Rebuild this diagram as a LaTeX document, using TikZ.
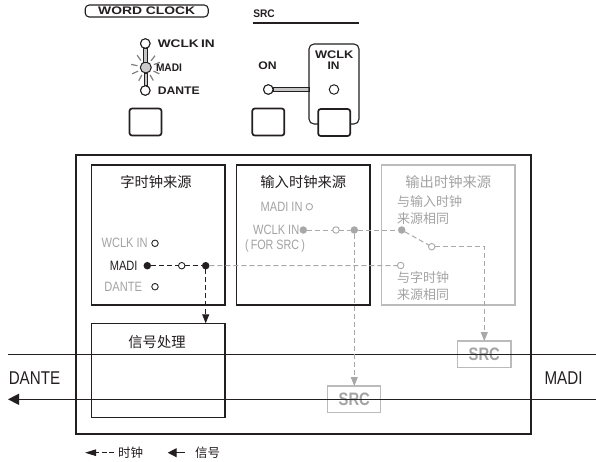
\documentclass[tikz,border=0pt]{standalone}
\usepackage{fontspec}
\setmainfont{Liberation Sans}
\newfontfamily\condfont[FakeStretch=0.82]{Liberation Sans}
\newfontfamily\cjkfont{Noto Sans CJK SC}
\usetikzlibrary{arrows.meta}
\newcommand\tp[2]{\resizebox{#1}{\height}{\bfseries #2}}
\definecolor{dk}{HTML}{231F20}
\definecolor{gtxt}{HTML}{A3A3A3}
\definecolor{gline}{HTML}{A8A8A8}
\definecolor{gbox}{HTML}{BBBBBB}
\begin{document}
\begin{tikzpicture}[x=1pt,y=-1pt,
  every node/.style={inner sep=0pt, outer sep=0pt},
  boxA/.style={draw=dk, line width=1.3pt},
  gboxA/.style={draw=gbox, line width=1.3pt},
  ledc/.style={circle, draw=dk, line width=1pt, fill=white, minimum size=9.5pt},
  btnbox/.style={draw=dk, line width=1.7pt, rounded corners=2.5pt, minimum width=32pt, minimum height=27pt},
  barbox/.style={draw=dk, line width=0.7pt, fill=gray!45},
  odot/.style={circle, draw=dk, line width=0.9pt, fill=white, minimum size=6.5pt},
  fdot/.style={circle, fill=dk, minimum size=7.5pt},
  godot/.style={circle, draw=gline, line width=0.9pt, fill=white, minimum size=6.5pt},
  gfdot/.style={circle, fill=gline, minimum size=7.5pt},
  clkline/.style={dk, line width=1pt, dash pattern=on 5pt off 3pt},
  gclkline/.style={gline, line width=1pt, dash pattern=on 5pt off 3pt},
  sigline/.style={dk, line width=1.3pt},
  toplab/.style={font=\fontsize{11}{12}\selectfont, text=dk},
  mlab/.style={font=\condfont\fontsize{13.5}{15}\selectfont, text=dk},
  glab/.style={font=\condfont\fontsize{13.5}{15}\selectfont, text=gtxt},
  biglab/.style={font=\condfont\fontsize{18.5}{20}\selectfont, text=dk},
  srclab/.style={font=\condfont\bfseries\fontsize{18}{20}\selectfont, text=gtxt},
  cjkt/.style={font=\cjkfont\fontsize{14.3}{16}\selectfont, text=dk},
  gcjk/.style={font=\cjkfont\fontsize{13}{15}\selectfont, text=gtxt},
  legt/.style={font=\cjkfont\fontsize{12.5}{14}\selectfont, text=dk}
]
\fill[white] (0,0) rectangle (596,461);
\useasboundingbox (0,0) rectangle (596,461);

% ---------- top panel ----------
\node[draw=dk, line width=1.1pt, rounded corners=4pt, minimum width=123pt, minimum height=12pt, toplab] (wcb) at (146.7,11) {\tp{97pt}{WORD\hspace{3pt}CLOCK}};
\node[toplab, anchor=west] (srct) at (253.3,13.3) {\tp{21.5pt}{SRC}};
\draw[dk, line width=1.6pt] (252.7,22.7) -- (358.5,22.7);

\node[ledc] (lw) at (145.3,43.5) {};
\node[ledc, minimum size=11pt, fill=gray!40] (lm) at (145.8,67.5) {};
\node[ledc] (ld) at (145.3,90.5) {};
\draw[barbox] ([xshift=-1.6pt]lw.south) rectangle ([xshift=1.6pt]lm.north);
\draw[barbox] ([xshift=-1.6pt]lm.south) rectangle ([xshift=1.6pt]ld.north);
\node[ledc] at (lw) {};
\node[ledc] at (ld) {};
\node[toplab, anchor=west] (tw) at (157.8,43.9) {\tp{57pt}{WCLK\hspace{2pt}IN}};
\node[toplab, anchor=west] (tm) at (156,67.3) {\tp{26pt}{MADI}};
\node[toplab, anchor=west] (td) at (157.8,90.7) {\tp{42pt}{DANTE}};
\foreach \a in {20,52,125,168,205,242,300,335}
  \draw[black!50, line width=1.2pt] (lm) ++(\a:8.5pt) -- ++(\a:6.5pt);

\node[btnbox] (bwc) at (145.5,122) {};
\node[btnbox] (bsrc) at (268.3,122) {};
\node[btnbox] (bwk) at (334.2,122.5) {};

\node[toplab] (ton) at (267.5,66) {\tp{18.3pt}{ON}};
\node[ledc] (lon) at (268.3,89.5) {};
\node[toplab] (twk1) at (334.2,54.5) {\tp{38.3pt}{WCLK}};
\node[toplab] (twk2) at (333.6,66) {\tp{12pt}{IN}};
\node[ledc] (lwk) at (334,89.5) {};
\coordinate (fl) at (309,89.5);
\draw[barbox] ([yshift=2.3pt]lon.east) rectangle ([yshift=-2.3pt]fl);
\node[ledc] at (lon) {};
\draw[dk, line width=1.1pt, rounded corners=5pt]
  ([yshift=-1.5pt]bwk.west) -- (309,124) -- (309,44) -- (359,44) -- (359,124) -- ([yshift=-1.5pt]bwk.east);

% ---------- main panel ----------
\node[draw=dk, line width=2pt, minimum width=454.5pt, minimum height=279pt] (outer) at (303.25,294.5) {};
\node[boxA, minimum width=133.3pt, minimum height=140pt] (wcs) at (158.35,235) {};
\node[boxA, minimum width=133.3pt, minimum height=140pt] (ics) at (303.35,235) {};
\node[gboxA, minimum width=133.3pt, minimum height=140pt] (ocs) at (448.35,235) {};
\node[boxA, minimum width=133.3pt, minimum height=94.4pt] (sp) at (158.35,370.5) {};
\node[draw=gbox, line width=1.2pt, minimum width=53pt, minimum height=26.7pt, srclab] (srcA) at (354.3,399.35) {SRC};
\node[draw=gbox, line width=1.2pt, minimum width=53.3pt, minimum height=26.7pt, srclab] (srcB) at (484.3,354.35) {SRC};

\node[cjkt] at (156,182.3) {字时钟来源};
\node[cjkt] at (303.3,182.3) {输入时钟来源};
\node[cjkt, text=gtxt] at (448.3,182.3) {输出时钟来源};
\node[cjkt] at (157,341.7) {信号处理};

% signal lines
\coordinate (uL) at (8,354.3);  \coordinate (uR) at (596,354.3);
\coordinate (lL) at (8,399.3);  \coordinate (lR) at (596,399.3);
\draw[sigline] (uL) -- (uR);
\draw[sigline, -{Triangle[length=11pt,width=11pt]}] (lR) -- (lL);
\node[biglab] at (34.5,378) {DANTE};
\node[biglab] at (563.5,378) {MADI};

% word clock source
\node[glab, anchor=east] at (147.7,243.3) {WCLK IN};
\node[mlab, anchor=east] at (137.5,265.7) {MADI};
\node[glab, anchor=east] at (142,286.7) {DANTE};
\node[odot] (cw) at (155,243.3) {};
\node[fdot] (cm) at (147.3,265.7) {};
\node[odot] (cd) at (155,286.7) {};
\node[odot] (m1) at (181.7,265.7) {};
\node[fdot] (m2) at (205.7,265.7) {};
\node[godot] (m3) at (400.7,265.5) {};

% input clock source
\node[glab, anchor=east] at (302.5,206.7) {MADI IN};
\node[godot] (imi) at (309.3,206.7) {};
\node[glab, anchor=east] at (299.3,230) {WCLK IN};
\node[glab] at (275,245.5) {\resizebox{60pt}{\height}{(\,FOR SRC\,)}};
\node[gfdot] (iw) at (303.3,230) {};
\node[godot] (w1) at (336,230) {};
\node[gfdot] (w2) at (354.3,230) {};
\node[gfdot] (w3) at (401.7,230) {};
\node[godot] (sw) at (431.7,246.7) {};

% output clock source
\node[gcjk, anchor=west] at (397,201.7) {与输入时钟};
\node[gcjk, anchor=west] at (397,218.3) {来源相同};
\node[gcjk, anchor=west] at (397,277.7) {与字时钟};
\node[gcjk, anchor=west] at (397,294.3) {来源相同};

% clock connectors
\draw[clkline] (cm) -- (m1);
\draw[clkline] (m1) -- (m2);
\draw[gclkline] (m2) -- (m3);
\draw[clkline, -{Triangle[length=9pt,width=7pt]}] (m2) -- (m2 |- sp.north);
\draw[gclkline] (iw) -- (w1);
\draw[gclkline] (w1) -- (w2);
\draw[gclkline] (w2) -- (w3);
\draw[gclkline] (w3) -- (sw);
\draw[gclkline, -{Triangle[length=9pt,width=7pt]}] (w2) -- (srcA.north);
\draw[gclkline, -{Triangle[length=9pt,width=7pt]}] (sw) -| (srcB.north);

% legend
\coordinate (la1) at (85,452.7); \coordinate (la2) at (114,452.7);
\draw[dk, line width=1pt, dash pattern=on 5pt off 2.5pt, -{Triangle[length=11pt,width=6.5pt]}] (la2) -- (la1);
\node[legt, anchor=west] at (118,452.7) {时钟};
\coordinate (lb1) at (167.7,452.7); \coordinate (lb2) at (185,452.7);
\draw[sigline, -{Triangle[length=9pt,width=9pt]}] (lb2) -- (lb1);
\node[legt, anchor=west] at (195,452.7) {信号};
\end{tikzpicture}
\end{document}
